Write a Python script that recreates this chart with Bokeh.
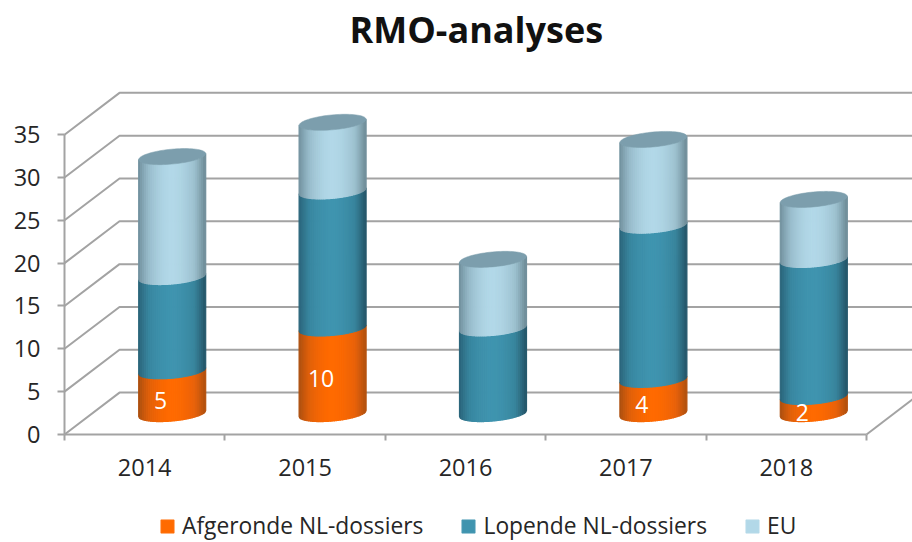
import numpy as np
from bokeh.core.properties import value
from bokeh.embed import file_html
from bokeh.models import FixedTicker, Legend, LegendItem, LinearAxis, Range1d, Title
from bokeh.plotting import figure
from bokeh.resources import INLINE

years = ["2014", "2015", "2016", "2017", "2018"]
afgerond = [5, 10, 0, 4, 2]
lopend = [11, 16, 10, 18, 16]
eu = [14, 8, 8, 10, 7]
y_ticks = [0, 5, 10, 15, 20, 25, 30, 35]
series_names = ["Afgeronde NL-dossiers", "Lopende NL-dossiers", "EU"]
series_values = [afgerond, lopend, eu]
# colour across a cylinder: edge, shoulder, centre, shoulder, edge
series_ramps = [
    ["#a84e10", "#e0600a", "#ff6a00", "#e8620a", "#b0500f"],
    ["#2a6278", "#38869f", "#3f94af", "#38849c", "#245468"],
    ["#6f8e9b", "#98bccb", "#b2d8e8", "#9cc0ce", "#6d8a96"],
]
top_color = "#7c9ead"
grid_color = "#a3a3a3"
text_color = "#262626"

PX_X = 160.4
PX_Y = 8.6
W, H = 912, 542
ORIGIN_X, ORIGIN_Y = 64, 433.5
TOP = 54
DEPTH_X, DEPTH_Y = 55 / PX_X, 42 / PX_Y
BAR_A = 33.5 / PX_X
BAR_B = 7.5 / PX_Y
BAR_S = 3.0 / PX_Y
N = 34

p = figure(
    width=W, height=H, output_backend="svg", toolbar_location=None,
    x_range=Range1d(-ORIGIN_X / PX_X, (W - ORIGIN_X) / PX_X),
    y_range=Range1d(-(H - ORIGIN_Y) / PX_Y, (ORIGIN_Y - TOP) / PX_Y),
    x_axis_location=None, y_axis_location=None,
    min_border_left=0, min_border_right=0, min_border_top=TOP, min_border_bottom=0,
    background_fill_color="white", border_fill_color="white", outline_line_color=None,
)
p.grid.visible = False
p.add_layout(Title(text="RMO-analyses", align="left", offset=349, standoff=5,
                   text_font="Open Sans", text_font_size="36px", text_font_style="bold",
                   text_color="#111111"), "above")

y_axis = LinearAxis(ticker=FixedTicker(ticks=y_ticks), bounds=(0, 35), fixed_location=0)
x_axis = LinearAxis(
    ticker=FixedTicker(ticks=[i + 0.5 for i in range(5)], minor_ticks=list(range(6))),
    major_label_overrides={i + 0.5: y for i, y in enumerate(years)}, bounds=(0, 5),
    fixed_location=0,
)
for ax in (x_axis, y_axis):
    ax.axis_line_color = grid_color
    ax.axis_line_width = 2
    ax.major_label_text_font = "Open Sans"
    ax.major_label_text_font_size = "23.5px"
    ax.major_label_text_color = text_color
y_axis.major_tick_line_color = grid_color
y_axis.major_tick_line_width = 2
y_axis.major_tick_in = 0
y_axis.major_tick_out = 7
y_axis.minor_tick_line_color = None
y_axis.major_label_standoff = 17
x_axis.major_tick_line_color = None
x_axis.minor_tick_line_color = grid_color
x_axis.minor_tick_line_width = 2
x_axis.minor_tick_in = 0
x_axis.minor_tick_out = 6
x_axis.major_label_standoff = 19
p.add_layout(y_axis, "left")
p.add_layout(x_axis, "below")

# walls and floor
wx, wy = [], []
for t in y_ticks:
    wx.append([0, DEPTH_X, 7])
    wy.append([t, t + DEPTH_Y, t + DEPTH_Y])
wx.append([5, 5 + DEPTH_X])
wy.append([0, DEPTH_Y])
p.multi_line(wx, wy, line_color=grid_color, line_width=2)


def mix(ramp, u):
    pos = (u + 1) / 2 * (len(ramp) - 1)
    i = min(int(pos), len(ramp) - 2)
    f = pos - i
    a = [int(ramp[i][k:k + 2], 16) for k in (1, 3, 5)]
    b = [int(ramp[i + 1][k:k + 2], 16) for k in (1, 3, 5)]
    return "#%02x%02x%02x" % tuple(int(round(a[k] + (b[k] - a[k]) * f)) for k in range(3))


def arc(u):
    return BAR_S * u - BAR_B * np.sqrt(np.clip(1 - u * u, 0, 1))


edges = np.linspace(-1, 1, N + 1)
centers = [i + 0.5 + DEPTH_X / 2 for i in range(5)]
base = DEPTH_Y / 2
renderers = []
cum = [0.0] * 5
for vals, ramp in zip(series_values, series_ramps):
    xs, ys, cols = [], [], []
    for b, v in enumerate(vals):
        if v == 0:
            continue
        lo, hi = base + cum[b], base + cum[b] + v
        for j in range(N):
            u = np.linspace(edges[j], edges[j + 1], 4)
            x = centers[b] + BAR_A * u
            xs.append(list(x) + list(x[::-1]))
            ys.append(list(lo + arc(u)) + list((hi + arc(u))[::-1]))
            uc = (edges[j] + edges[j + 1]) / 2
            shaped = np.sign(uc) * abs(uc) ** 1.8
            cols.append(mix(ramp, shaped))
        cum[b] += v
    renderers.append(p.patches(xs, ys, fill_color=cols, line_color=cols, line_width=1.2))

# top caps
t = np.linspace(0, 2 * np.pi, 80)
cx, cy = [], []
for b in range(5):
    cx.append(list(centers[b] + BAR_A * np.cos(t)))
    cy.append(list(base + cum[b] + BAR_S * np.cos(t) + BAR_B * np.sin(t)))
p.patches(cx, cy, fill_color=top_color, line_color=top_color, line_width=0.5)

# data labels on the finished dossiers
lx = [centers[b] - 11.5 / PX_X for b in range(5) if afgerond[b] > 0]
ly = [base + afgerond[b] / 2 - 8 / PX_Y for b in range(5) if afgerond[b] > 0]
lt = [str(afgerond[b]) for b in range(5) if afgerond[b] > 0]
p.text(lx, ly, text=lt, text_color="white", text_align="center", text_baseline="middle",
       text_font=value("Open Sans"), text_font_size="23px")

items = [LegendItem(label=n, renderers=[r], index=N // 2) for n, r in zip(series_names, renderers)]
legend = Legend(items=items, orientation="horizontal", location=(159, 1), padding=0,
                margin=0, spacing=37, label_standoff=7, glyph_width=16, glyph_height=16,
                border_line_color=None, background_fill_alpha=0,
                label_text_font="Open Sans", label_text_font_size="22.8px", label_text_color=text_color)
p.add_layout(legend)

open("out.html", "w").write(file_html(p, INLINE))
